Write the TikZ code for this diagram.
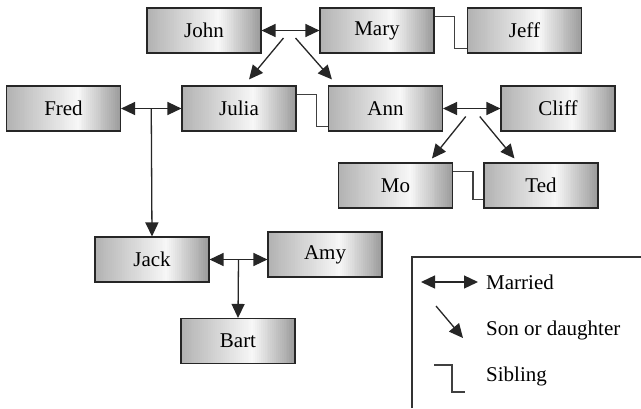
\documentclass[tikz,border=0pt]{standalone}
\usepackage{fontspec}
\setmainfont{Liberation Serif}
\usetikzlibrary{arrows.meta,calc}
\begin{document}
\begin{tikzpicture}[x=1pt,y=-1pt,
  grad/.style={path picture={
    \coordinate (pa) at (path picture bounding box.south west);
    \coordinate (pb) at (path picture bounding box.north east);
    \foreach \i in {0,...,59}{
      \pgfmathsetmacro{\ta}{\i/60}
      \pgfmathsetmacro{\tb}{(\i+1.5)/60}
      \pgfmathsetmacro{\p}{\ta<0.62 ? 70+27*\ta/0.62 : 97-37*(\ta-0.62)/0.38}
      \fill[white!\p!black] ($(pa)!\ta!(pa-|pb)$) rectangle ($(pb-|pa)!\tb!(pb)$);
    }}},
  person/.style={draw=black!85,line width=1.1pt,minimum width=114pt,minimum height=45pt,
    inner sep=0pt,grad,font=\fontsize{21}{24}\selectfont},
  conn/.style={line width=1.3pt,black!85},
  tip/.style={-{Triangle[length=14pt,width=13pt]}},
  married/.style={conn,{Triangle[length=14pt,width=13pt]}-{Triangle[length=14pt,width=13pt]}},
  child/.style={conn,tip},
  sib/.style={line width=1.2pt,black!75},
  legtext/.style={anchor=west,inner sep=0pt,font=\fontsize{21}{24}\selectfont}]
\fill[white] (0,0) rectangle (641,408);
\useasboundingbox (0,0) rectangle (641,408);
% nodes
\node[person] (john) at (204,30.5) {John};
\node[person] (mary) at (377,30.5) {Mary};
\node[person] (jeff) at (524.5,30.5) {Jeff};
\node[person] (fred) at (63.5,108.5) {Fred};
\node[person] (julia) at (239,108.5) {Julia};
\node[person] (ann) at (385.5,108.5) {Ann};
\node[person] (cliff) at (558,108.5) {Cliff};
\node[person] (mo) at (395.5,185.5) {Mo};
\node[person] (ted) at (541,185.5) {Ted};
\node[person] (jack) at (152,259.5) {Jack};
\node[person] (amy) at (325,254.5) {Amy};
\node[person] (bart) at (238,341) {Bart};
% married
\draw[married] (john.east) -- (mary.west);
\draw[married] (fred.east) -- (julia.west);
\draw[married] (ann.east) -- (cliff.west);
\draw[married] (jack.east) -- (jack.east -| amy.west);
% children
\coordinate (jm) at ($(john.east)!0.5!(mary.west)$);
\coordinate (ac) at ($(ann.east)!0.5!(cliff.west)$);
\coordinate (fj) at ($(fred.east)!0.5!(julia.west)$);
\coordinate (ja) at ($(jack.east)!0.5!(jack.east -| amy.west)$);
\coordinate (jm1) at ($(jm)+(-7,7.5)$);
\coordinate (jm2) at ($(jm)+(5,7.5)$);
\coordinate (ac1) at ($(ac)+(-6,8)$);
\coordinate (ac2) at ($(ac)+(8,8)$);
\draw[child] (jm1) -- ($(julia.north)+(10,-6)$);
\draw[child] (jm2) -- ($(ann.north west)+(4,-6)$);
\draw[child] (ac1) -- ($(mo.north)+(36.5,-4)$);
\draw[child] (ac2) -- ($(ted.north west)+(31,-4)$);
\draw[child] (fj) -- (jack.north);
\draw[child] (ja) -- (bart.north);
% siblings
\draw[sib] ($(mary.north east)+(0,9)$) -- ++(20,0) |- ($(jeff.south west)+(0,-5)$);
\draw[sib] ($(julia.north east)+(0,9)$) -- ++(20,0) |- ($(ann.south west)+(0,-5)$);
\draw[sib] ($(mo.north east)+(0,9)$) -- ++(20,0) |- ($(ted.south west)+(0,-9)$);
% legend
\coordinate (lgtop) at (641,257);
\coordinate (lgcorner) at (412,257);
\coordinate (lgbottom) at (412,408);
\draw[line width=1.1pt,black!80] (lgbottom) -- (lgcorner) -- (lgtop);
\coordinate (lm1) at (421,282);
\coordinate (lm2) at (478,282);
\draw[married] (lm1) -- (lm2);
\node[legtext] (tm) at (486,282) {Married};
\coordinate (ls1) at (436,306);
\coordinate (ls2) at (463,338);
\draw[child] (ls1) -- (ls2);
\node[legtext] (ts) at (486,330) {Son or daughter};
\coordinate (lb1) at (434,365);
\coordinate (lb2) at (465,392);
\draw[sib] (lb1) -- (452,365) |- (lb2);
\node[legtext] (tb) at (486,376) {Sibling};
\end{tikzpicture}
\end{document}
